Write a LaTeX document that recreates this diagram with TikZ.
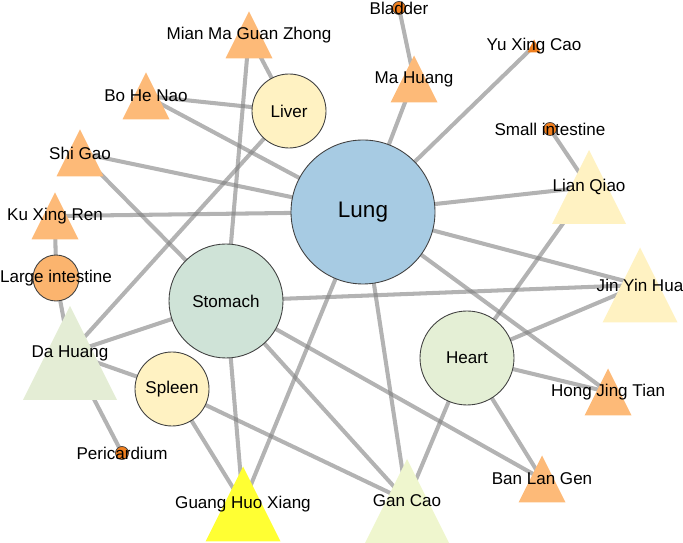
\documentclass[tikz,border=0pt]{standalone}
\usepackage{fontspec}
\setmainfont{Liberation Sans}
\usetikzlibrary{backgrounds}
\definecolor{lungblue}{HTML}{A7CBE3}
\definecolor{paleyellow}{HTML}{FFF2C2}
\definecolor{stomachgreen}{HTML}{CFE3D7}
\definecolor{heartgreen}{HTML}{E4EFD5}
\definecolor{intorange}{HTML}{FBB46E}
\definecolor{pointorange}{HTML}{F07F1E}
\definecolor{herborange}{HTML}{FDBA78}
\definecolor{dahuanggreen}{HTML}{E4EDD5}
\definecolor{gancaogreen}{HTML}{EFF6CE}
\definecolor{brightyellow}{HTML}{FFFF33}

\begin{document}
\begin{tikzpicture}[
  organ/.style={draw=black!75,circle,inner sep=0pt,line width=0.5pt,font=\fontsize{9.7}{11}\selectfont},
  dot/.style={draw=black!75,circle,inner sep=0pt,minimum size=0.26cm,fill=pointorange,line width=0.4pt},
  herb/.style 2 args={inner sep=0pt,minimum size=#1,
    path picture={\fill[#2] (path picture bounding box.south west) -- (path picture bounding box.south east) -- (path picture bounding box.north) -- cycle;}},
  link/.style={line width=2.3pt,gray,opacity=0.6},
  every label/.style={font=\fontsize{9.7}{11}\selectfont,inner sep=0pt}]

  \useasboundingbox (0,0) rectangle (13.66,10.86);

  \node[organ,fill=lungblue,minimum size=2.88cm,font=\fontsize{12.8}{14}\selectfont] (lung) at (7.26,6.62) {Lung};
  \node[organ,fill=paleyellow,minimum size=1.48cm] (liver)   at (5.78,8.64) {Liver};
  \node[organ,fill=stomachgreen,minimum size=2.28cm] (stomach) at (4.52,4.84) {Stomach};
  \node[organ,fill=paleyellow,minimum size=1.48cm] (spleen)  at (3.44,3.08) {Spleen};
  \node[organ,fill=heartgreen,minimum size=1.88cm] (heart)   at (9.34,3.70) {Heart};
  \node[organ,fill=intorange,minimum size=0.92cm,label=center:Large intestine] (largeint) at (1.12,5.30) {};
  \node[dot,label=center:Bladder]         (bladder)  at (7.98,10.70) {};
  \node[dot,label=center:Small intestine] (smallint) at (11.00,8.28) {};
  \node[dot,label=center:Pericardium]     (pericard) at (2.44,1.80) {};

  \node[herb={0.94cm}{herborange},label=center:Mian Ma Guan Zhong] (mianma)   at (4.98,10.16) {};
  \node[herb={0.94cm}{herborange},label=center:Bo He Nao]          (bohenao)  at (2.92,8.94) {};
  \node[herb={0.94cm}{herborange},label=center:Shi Gao]            (shigao)   at (1.60,7.80) {};
  \node[herb={0.94cm}{herborange},label=center:Ku Xing Ren]        (kuxing)   at (1.10,6.54) {};
  \node[herb={0.94cm}{herborange},label=center:Ma Huang]           (mahuang)  at (8.28,9.28) {};
  \node[herb={0.26cm}{pointorange},label=center:Yu Xing Cao]       (yuxing)   at (10.68,9.94) {};
  \node[herb={1.48cm}{paleyellow},label=center:Lian Qiao]          (lianqiao) at (11.78,7.12) {};
  \node[herb={1.50cm}{paleyellow},label=center:Jin Yin Hua]        (jinyin)   at (12.80,5.16) {};
  \node[herb={0.94cm}{herborange},label=center:Hong Jing Tian]     (hongjing) at (12.16,3.02) {};
  \node[herb={0.94cm}{herborange},label=center:Ban Lan Gen]        (banlan)   at (10.84,1.28) {};
  \node[herb={1.68cm}{gancaogreen},label=center:Gan Cao]           (gancao)   at (8.14,0.84) {};
  \node[herb={1.50cm}{brightyellow},label=center:Guang Huo Xiang]  (guanghuo) at (4.86,0.78) {};
  \node[herb={1.88cm}{dahuanggreen},label=center:Da Huang]         (dahuang)  at (1.40,3.80) {};

  \begin{scope}[on background layer]
    \foreach \a/\b in {lung/bohenao,lung/shigao,lung/kuxing,lung/mahuang,lung/yuxing,lung/lianqiao,
      lung/jinyin,lung/hongjing,lung/gancao,lung/guanghuo,liver/mianma,liver/bohenao,liver/dahuang,
      stomach/mianma,stomach/shigao,stomach/dahuang,stomach/jinyin,stomach/guanghuo,stomach/gancao,
      stomach/banlan,spleen/dahuang,spleen/guanghuo,spleen/gancao,heart/lianqiao,heart/jinyin,
      heart/hongjing,heart/banlan,heart/gancao,largeint/kuxing,largeint/dahuang,pericard/dahuang,
      bladder/mahuang,smallint/lianqiao}
      \draw[link] (\a.center) -- (\b.center);
  \end{scope}
\end{tikzpicture}
\end{document}
